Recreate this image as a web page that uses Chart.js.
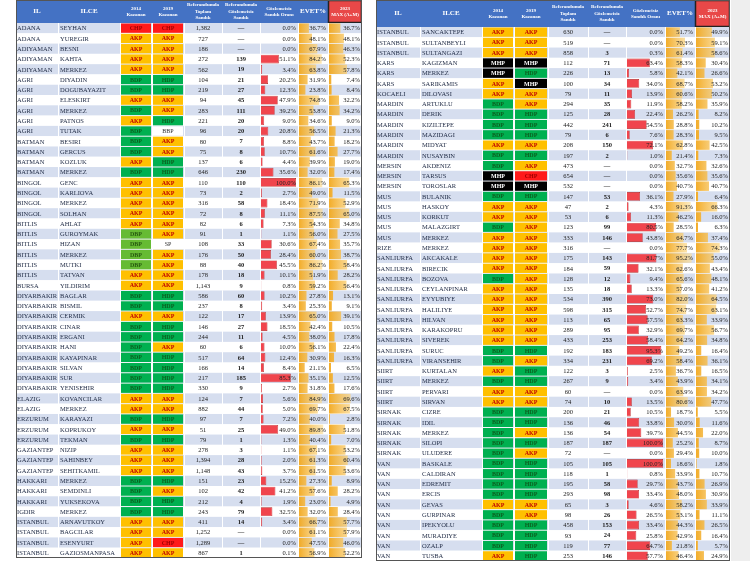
<!DOCTYPE html>
<html><head><meta charset="utf-8">
<script src="https://cdn.jsdelivr.net/npm/chart.js@4"></script>
<style>
body{margin:0;background:#fff;width:750px;height:561px;overflow:hidden;position:relative}
canvas{position:absolute;top:0}
#shade{position:absolute;left:731px;top:0;width:19px;height:561px;background:#eee}
</style></head><body>
<div id="shade"></div>
<div style="position:absolute;left:16px;top:0;width:346px;height:558px"><canvas id="cL"></canvas></div>
<div style="position:absolute;left:376px;top:0;width:354px;height:561px"><canvas id="cR"></canvas></div>
<script>
// ---------- LEFT TABLE DATA ----------
const leftIl=["ADANA","ADANA","ADIYAMAN","ADIYAMAN","ADIYAMAN","AGRI","AGRI","AGRI","AGRI","AGRI","AGRI","BATMAN","BATMAN","BATMAN","BATMAN","BINGOL","BINGOL","BINGOL","BINGOL","BITLIS","BITLIS","BITLIS","BITLIS","BITLIS","BITLIS","BURSA","DIYARBAKIR","DIYARBAKIR","DIYARBAKIR","DIYARBAKIR","DIYARBAKIR","DIYARBAKIR","DIYARBAKIR","DIYARBAKIR","DIYARBAKIR","DIYARBAKIR","ELAZIG","ELAZIG","ERZURUM","ERZURUM","ERZURUM","GAZIANTEP","GAZIANTEP","GAZIANTEP","HAKKARI","HAKKARI","HAKKARI","IGDIR","ISTANBUL","ISTANBUL","ISTANBUL","ISTANBUL"];
const leftIlce=["SEYHAN","YUREGIR","BESNI","KAHTA","MERKEZ","DIYADIN","DOGUBAYAZIT","ELESKIRT","MERKEZ","PATNOS","TUTAK","BESIRI","GERCUS","KOZLUK","MERKEZ","GENC","KARLIOVA","MERKEZ","SOLHAN","AHLAT","GUROYMAK","HIZAN","MERKEZ","MUTKI","TATVAN","YILDIRIM","BAGLAR","BISMIL","CERMIK","CINAR","ERGANI","HANI","KAYAPINAR","SILVAN","SUR","YENISEHIR","KOVANCILAR","MERKEZ","KARAYAZI","KOPRUKOY","TEKMAN","NIZIP","SAHINBEY","SEHITKAMIL","MERKEZ","SEMDINLI","YUKSEKOVA","MERKEZ","ARNAVUTKOY","BAGCILAR","ESENYURT","GAZIOSMANPASA"];
const left2014=["CHP","AKP","AKP","AKP","AKP","BDP","BDP","AKP","BDP","AKP","BDP","BDP","BDP","AKP","BDP","AKP","AKP","AKP","AKP","AKP","DBP","DBP","DBP","DBP","AKP","AKP","BDP","BDP","AKP","BDP","BDP","BDP","BDP","BDP","BDP","BDP","AKP","AKP","BDP","AKP","BDP","AKP","AKP","AKP","BDP","BDP","BDP","BDP","AKP","AKP","AKP","AKP"];
const left2019=["CHP","AKP","AKP","AKP","AKP","HDP","HDP","AKP","AKP","HDP","BBP","AKP","AKP","HDP","HDP","AKP","AKP","AKP","AKP","AKP","AKP","SP","AKP","AKP","AKP","AKP","HDP","HDP","AKP","HDP","HDP","AKP","HDP","HDP","HDP","HDP","AKP","AKP","HDP","AKP","HDP","AKP","AKP","AKP","HDP","AKP","HDP","HDP","AKP","AKP","CHP","AKP"];
const leftToplam=[1382,727,186,272,562,104,219,94,283,221,96,80,75,137,646,110,73,316,72,82,91,108,176,88,178,1143,586,237,122,146,244,60,517,166,217,330,124,882,97,51,79,278,1394,1148,151,102,212,243,411,1252,1289,867];
const leftGoz=[null,null,null,139,19,21,27,45,111,20,20,7,8,6,230,110,2,58,8,6,1,33,50,40,18,9,60,8,17,27,11,6,64,14,185,9,7,44,7,25,1,3,28,43,23,42,4,79,14,null,null,1];
const leftOran=[0,0,0,51.1,3.4,20.2,12.3,47.9,39.2,9.0,20.8,8.8,10.7,4.4,35.6,100,2.7,18.4,11.1,7.3,1.1,30.6,28.4,45.5,10.1,0.8,10.2,3.4,13.9,18.5,4.5,10.0,12.4,8.4,85.3,2.7,5.6,5.0,7.2,49.0,1.3,1.1,2.0,3.7,15.2,41.2,1.9,32.5,3.4,0,0,0.1];
const leftEvet=[36.7,48.1,67.9,84.2,63.8,31.9,23.8,74.8,53.8,34.6,56.5,43.7,61.6,39.9,32.0,86.1,49.0,71.9,87.5,54.3,56.0,67.4,60.0,86.2,51.9,59.2,27.8,25.3,65.0,42.4,38.0,56.1,30.9,21.1,35.1,31.8,84.9,69.7,40.0,89.8,40.4,67.1,61.3,61.5,27.3,57.6,23.0,32.0,66.7,61.1,47.5,56.9];
const leftMax=[36.7,48.1,46.3,52.3,57.8,7.4,8.4,32.2,34.2,9.0,21.3,18.2,27.7,19.0,17.4,65.3,11.5,52.9,65.0,34.8,27.5,35.7,38.7,58.4,28.2,56.4,13.1,9.1,39.1,10.5,17.8,22.4,16.3,6.5,12.5,17.6,69.6,67.5,2.8,51.8,7.0,53.2,60.4,53.6,8.9,28.2,4.9,28.4,57.7,57.9,46.0,52.2];
// ---------- RIGHT TABLE DATA ----------
const rightIl=["ISTANBUL","ISTANBUL","ISTANBUL","KARS","KARS","KARS","KOCAELI","MARDIN","MARDIN","MARDIN","MARDIN","MARDIN","MARDIN","MERSIN","MERSIN","MERSIN","MUS","MUS","MUS","MUS","MUS","RIZE","SANLIURFA","SANLIURFA","SANLIURFA","SANLIURFA","SANLIURFA","SANLIURFA","SANLIURFA","SANLIURFA","SANLIURFA","SANLIURFA","SANLIURFA","SIIRT","SIIRT","SIIRT","SIIRT","SIRNAK","SIRNAK","SIRNAK","SIRNAK","SIRNAK","VAN","VAN","VAN","VAN","VAN","VAN","VAN","VAN","VAN","VAN"];
const rightIlce=["SANCAKTEPE","SULTANBEYLI","SULTANGAZI","KAGIZMAN","MERKEZ","SARIKAMIS","DILOVASI","ARTUKLU","DERIK","KIZILTEPE","MAZIDAGI","MIDYAT","NUSAYBIN","AKDENIZ","TARSUS","TOROSLAR","BULANIK","HASKOY","KORKUT","MALAZGIRT","MERKEZ","MERKEZ","AKCAKALE","BIRECIK","BOZOVA","CEYLANPINAR","EYYUBIYE","HALILIYE","HILVAN","KARAKOPRU","SIVEREK","SURUC","VIRANSEHIR","KURTALAN","MERKEZ","PERVARI","SIRVAN","CIZRE","IDIL","MERKEZ","SILOPI","ULUDERE","BASKALE","CALDIRAN","EDREMIT","ERCIS","GEVAS","GURPINAR","IPEKYOLU","MURADIYE","OZALP","TUSBA"];
const right2014=["AKP","AKP","AKP","MHP","MHP","AKP","AKP","BDP","BDP","BDP","BDP","AKP","BDP","BDP","MHP","MHP","BDP","AKP","AKP","BDP","AKP","AKP","AKP","AKP","BDP","AKP","AKP","AKP","AKP","AKP","AKP","BDP","BDP","AKP","BDP","AKP","AKP","BDP","BDP","BDP","BDP","BDP","BDP","BDP","BDP","BDP","AKP","BDP","BDP","BDP","BDP","AKP"];
const right2019=["AKP","AKP","AKP","MHP","HDP","MHP","AKP","AKP","HDP","HDP","HDP","AKP","HDP","AKP","CHP","MHP","HDP","AKP","AKP","AKP","AKP","AKP","AKP","AKP","AKP","AKP","AKP","AKP","AKP","AKP","AKP","HDP","AKP","HDP","HDP","AKP","AKP","HDP","HDP","AKP","HDP","AKP","HDP","HDP","HDP","HDP","AKP","AKP","HDP","HDP","HDP","HDP"];
const rightToplam=[630,519,858,112,226,100,79,294,125,442,79,208,197,473,654,532,147,47,53,123,333,316,175,184,128,135,534,598,113,289,433,192,334,122,267,60,74,200,136,136,187,72,105,118,195,293,65,98,458,93,119,253];
const rightGoz=[null,null,3,71,13,34,11,35,28,241,6,150,2,null,null,null,53,2,6,99,146,null,143,59,12,18,390,315,65,95,253,183,231,3,9,null,10,21,46,54,187,null,105,1,58,98,3,26,153,24,77,146];
const rightOran=[0,0,0.3,63.4,5.8,34.0,13.9,11.9,22.4,54.5,7.6,72.1,1.0,0,0,0,36.1,4.3,11.3,80.5,43.8,0,81.7,32.1,9.4,13.3,73.0,52.7,57.5,32.9,58.4,95.3,69.2,2.5,3.4,0,13.5,10.5,33.8,39.7,100,0,100,0.8,29.7,33.4,4.6,26.5,33.4,25.8,64.7,57.7];
const rightEvet=[51.7,70.3,61.4,58.3,42.1,68.7,60.6,58.2,26.2,28.8,28.3,62.8,21.4,32.7,35.6,40.7,27.9,91.3,46.2,28.5,64.7,77.7,95.2,62.6,65.6,57.0,82.0,74.7,63.3,69.7,64.2,49.2,58.4,36.7,43.9,63.9,80.6,18.7,30.0,44.5,25.2,29.4,18.6,33.9,43.7,48.0,58.2,53.1,44.3,42.9,21.8,46.4];
const rightMax=[49.9,59.1,58.6,30.4,26.6,53.2,50.2,35.9,8.2,10.2,9.5,42.5,7.3,32.6,35.6,40.7,6.4,66.3,16.0,6.3,37.4,74.3,55.0,43.4,48.1,41.2,64.5,63.1,33.9,56.7,34.8,16.4,36.1,16.5,34.1,34.2,47.7,5.5,11.6,22.0,8.7,10.0,1.8,10.7,26.9,30.9,33.9,11.1,26.5,16.4,5.7,24.9];

const headers=[["IL"],["ILCE"],["2014","Kazanan"],["2019","Kazanan"],["Referandumda","Toplam","Sandık"],["Referandumda","Gözlemcisiz","Sandık"],["Gözlemcisiz","Sandık Oranı"],["EVET%"],["2023","MAX (A+M)"]];
const party={AKP:["#ffc000","#c00000"],BDP:["#00b050","#0b5e1e"],HDP:["#00b050","#0b5e1e"],DBP:["#66bb33","#275a10"],CHP:["#ff1a1a","#a00000"],MHP:["#000000","#ffffff"],SP:["#ffffff","#333333"],BBP:["#ffffff","#333333"]};

function makeTable(id,W,H,headH,cols,d){
  const n=d.ilce.length;
  const mapAx=(i)=>{const a=cols[i]+1,b=cols[i+1]-2;const per=100/(b-a);return {type:'linear',display:false,min:-a*per,max:(W-a)*per};};
  const grad=(ctx)=>{const ch=ctx.chart,x=ch.scales[ctx.dataset.xAxisID];
    if(!x)return 'rgba(246,184,64,0.8)';
    const a=x.getPixelForValue(0),b=x.getPixelForValue(100);
    if(!isFinite(a)||!isFinite(b))return 'rgba(246,184,64,0.8)';
    const g=ch.ctx.createLinearGradient(a,0,b,0);g.addColorStop(0,'rgba(242,168,30,0.95)');g.addColorStop(1,'rgba(252,226,160,0.6)');return g;};
  const plugin={id:'tbl'+id,
    beforeDatasetsDraw(ch){
      const c=ch.ctx,ys=ch.scales.y,rh=(ch.chartArea.bottom-ch.chartArea.top)/n;
      c.save();
      c.fillStyle='#4472c4';c.fillRect(0,0,W,headH);
      c.fillStyle='#e84848';c.fillRect(cols[8],0,W-cols[8],headH);
      c.strokeStyle='#222';c.lineWidth=1.5;c.strokeRect(cols[8]+0.5,0.5,W-cols[8]-1,headH-1);
      c.fillStyle='#fff';c.textAlign='center';c.textBaseline='middle';
      headers.forEach((h,k)=>{
        c.font=(h.length>1?'bold 5px':'bold 7px')+' "Liberation Serif"';
        const cx=(cols[k]+cols[k+1])/2,lh=6.5;
        h.forEach((t,j)=>c.fillText(t,cx,headH/2+(j-(h.length-1)/2)*lh));
      });
      for(let i=0;i<n;i++){
        const y=ys.getPixelForValue(i),t=y-rh/2;
        c.fillStyle=i%2===0?'#d6deef':'#ffffff';
        c.fillRect(0,t,W,rh);
        [[d.p14[i],2],[d.p19[i],3]].forEach(([p,k])=>{
          const pc=party[p];c.fillStyle=pc[0];c.fillRect(cols[k]+1,t+0.5,cols[k+1]-cols[k]-2,rh-1);
        });
      }
      c.strokeStyle='#ffffff';c.lineWidth=1;
      for(let k=1;k<cols.length-1;k++){c.beginPath();c.moveTo(cols[k]+0.5,headH);c.lineTo(cols[k]+0.5,H);c.stroke();}
      c.restore();
    },
    afterDatasetsDraw(ch){
      const c=ch.ctx,ys=ch.scales.y;
      c.save();c.textBaseline='middle';
      for(let i=0;i<n;i++){
        const y=ys.getPixelForValue(i)+0.5;
        c.fillStyle='#1f2a44';c.textAlign='left';
        c.font='6.5px "Liberation Serif"';
        c.fillText(d.il[i],1,y);c.fillText(d.ilce[i],cols[1]+2,y);
        c.textAlign='center';
        [[d.p14[i],2],[d.p19[i],3]].forEach(([p,k])=>{
          const pc=party[p];c.fillStyle=pc[1];
          c.font=(p==='SP'||p==='BBP'?'':'bold ')+'6px "Liberation Serif"';
          c.fillText(p,(cols[k]+cols[k+1])/2,y);
        });
        c.fillStyle='#222';c.font='6.5px "Liberation Serif"';
        c.fillText(d.top[i].toLocaleString('en-US'),(cols[4]+cols[5])/2,y);
        c.font='bold 6.5px "Liberation Serif"';
        c.fillText(d.goz[i]===null?'—':String(d.goz[i]),(cols[5]+cols[6])/2,y);
        c.textAlign='right';c.font='6.5px "Liberation Serif"';
        c.fillText(d.oran[i].toFixed(1)+'%',cols[7]-2,y);
        c.fillText(d.evet[i].toFixed(1)+'%',cols[8]-2,y);
        c.fillText(d.max[i].toFixed(1)+'%',W-2,y);
      }
      c.strokeStyle='#555';c.lineWidth=1;c.strokeRect(0.5,0.5,W-1,H-1);
      c.restore();
    }};
  new Chart(document.getElementById(id),{type:'bar',
    data:{labels:d.ilce.map((_,i)=>i),datasets:[
      {data:d.oran,xAxisID:'xo',grouped:false,backgroundColor:'#f0454d',borderColor:'#b02020',borderWidth:0.6,barPercentage:0.85,categoryPercentage:1},
      {data:d.evet,xAxisID:'xe',grouped:false,backgroundColor:grad,barPercentage:0.92,categoryPercentage:1},
      {data:d.max,xAxisID:'xm',grouped:false,backgroundColor:grad,barPercentage:0.92,categoryPercentage:1}]},
    options:{indexAxis:'y',responsive:true,maintainAspectRatio:false,animation:false,
      layout:{padding:{top:headH,left:0,right:0,bottom:0}},
      plugins:{legend:{display:false},tooltip:{enabled:false}},
      scales:{y:{type:'category',display:false,offset:true,grid:{display:false}},
        xo:mapAx(6),xe:mapAx(7),xm:mapAx(8)}},
    plugins:[plugin]});
}
makeTable('cL',346,558,23,[0,42,104,136,168,206,244,282,312,346],
  {il:leftIl,ilce:leftIlce,p14:left2014,p19:left2019,top:leftToplam,goz:leftGoz,oran:leftOran,evet:leftEvet,max:leftMax});
makeTable('cR',354,561,27,[0,44,106,138,172,212,250,289,319,354],
  {il:rightIl,ilce:rightIlce,p14:right2014,p19:right2019,top:rightToplam,goz:rightGoz,oran:rightOran,evet:rightEvet,max:rightMax});
</script></body></html>
